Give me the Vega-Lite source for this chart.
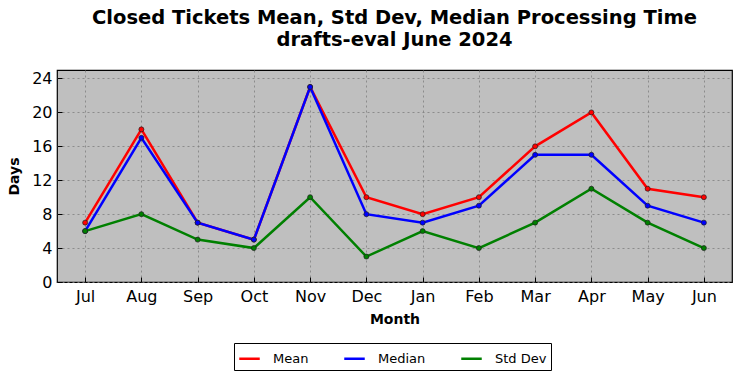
{
  "$schema": "https://vega.github.io/schema/vega-lite/v6.json",
  "autosize": "none",
  "width": 675,
  "height": 212,
  "padding": {"left": 57, "top": 70, "right": 10, "bottom": 96},
  "background": "white",
  "title": {
    "text": ["Closed Tickets Mean, Std Dev, Median Processing Time", "drafts-eval June 2024"],
    "font": "DejaVu Sans",
    "fontSize": 19.5,
    "fontWeight": "bold",
    "color": "black",
    "anchor": "middle",
    "offset": 20,
    "lineHeight": 22
  },
  "config": {
    "view": {"fill": "#bfbfbf", "stroke": "black", "strokeWidth": 1.2},
    "font": "DejaVu Sans",
    "axis": {
      "labelFont": "DejaVu Sans",
      "labelFontSize": 16,
      "labelColor": "black",
      "titleFont": "DejaVu Sans",
      "titleFontSize": 14,
      "titleFontWeight": "bold",
      "titleColor": "black",
      "domain": false,
      "tickColor": "black",
      "tickSize": -5,
      "grid": true,
      "gridColor": "#808080",
      "gridDash": [2, 3],
      "gridOpacity": 0.8
    }
  },
  "data": {
    "values": [
      {"month": "Jul", "series": "Mean", "days": 7},
      {"month": "Aug", "series": "Mean", "days": 18},
      {"month": "Sep", "series": "Mean", "days": 7},
      {"month": "Oct", "series": "Mean", "days": 5},
      {"month": "Nov", "series": "Mean", "days": 23},
      {"month": "Dec", "series": "Mean", "days": 10},
      {"month": "Jan", "series": "Mean", "days": 8},
      {"month": "Feb", "series": "Mean", "days": 10},
      {"month": "Mar", "series": "Mean", "days": 16},
      {"month": "Apr", "series": "Mean", "days": 20},
      {"month": "May", "series": "Mean", "days": 11},
      {"month": "Jun", "series": "Mean", "days": 10},
      {"month": "Jul", "series": "Median", "days": 6},
      {"month": "Aug", "series": "Median", "days": 17},
      {"month": "Sep", "series": "Median", "days": 7},
      {"month": "Oct", "series": "Median", "days": 5},
      {"month": "Nov", "series": "Median", "days": 23},
      {"month": "Dec", "series": "Median", "days": 8},
      {"month": "Jan", "series": "Median", "days": 7},
      {"month": "Feb", "series": "Median", "days": 9},
      {"month": "Mar", "series": "Median", "days": 15},
      {"month": "Apr", "series": "Median", "days": 15},
      {"month": "May", "series": "Median", "days": 9},
      {"month": "Jun", "series": "Median", "days": 7},
      {"month": "Jul", "series": "Std Dev", "days": 6},
      {"month": "Aug", "series": "Std Dev", "days": 8},
      {"month": "Sep", "series": "Std Dev", "days": 5},
      {"month": "Oct", "series": "Std Dev", "days": 4},
      {"month": "Nov", "series": "Std Dev", "days": 10},
      {"month": "Dec", "series": "Std Dev", "days": 3},
      {"month": "Jan", "series": "Std Dev", "days": 6},
      {"month": "Feb", "series": "Std Dev", "days": 4},
      {"month": "Mar", "series": "Std Dev", "days": 7},
      {"month": "Apr", "series": "Std Dev", "days": 11},
      {"month": "May", "series": "Std Dev", "days": 7},
      {"month": "Jun", "series": "Std Dev", "days": 4}
    ]
  },
  "encoding": {
    "x": {
      "field": "month",
      "type": "ordinal",
      "sort": ["Jul", "Aug", "Sep", "Oct", "Nov", "Dec", "Jan", "Feb", "Mar", "Apr", "May", "Jun"],
      "scale": {"type": "point", "padding": 0.5},
      "axis": {"title": "Month", "labelAngle": 0, "labelPadding": 11, "titlePadding": 8}
    },
    "y": {
      "field": "days",
      "type": "quantitative",
      "scale": {"domain": [0, 25], "nice": false},
      "axis": {"title": "Days", "values": [0, 4, 8, 12, 16, 20, 24], "labelPadding": 10, "titlePadding": 10}
    },
    "color": {
      "field": "series",
      "type": "nominal",
      "scale": {"domain": ["Mean", "Median", "Std Dev"], "range": ["#ff0000", "#0000ff", "#008000"]},
      "legend": {
        "title": null,
        "orient": "none",
        "legendX": 177,
        "legendY": 273,
        "direction": "horizontal",
        "symbolType": "stroke",
        "symbolStrokeWidth": 2.5,
        "symbolSize": 420,
        "labelOffset": 12,
        "labelFont": "DejaVu Sans",
        "labelFontSize": 13,
        "labelColor": "black",
        "columnPadding": 30,
        "strokeColor": "black",
        "padding": 4,
        "fillColor": "white"
      }
    }
  },
  "layer": [
    {"mark": {"type": "line", "strokeWidth": 2.5}},
    {"mark": {"type": "point", "filled": true, "size": 25, "opacity": 1, "stroke": "#202020", "strokeWidth": 0.7}}
  ]
}
